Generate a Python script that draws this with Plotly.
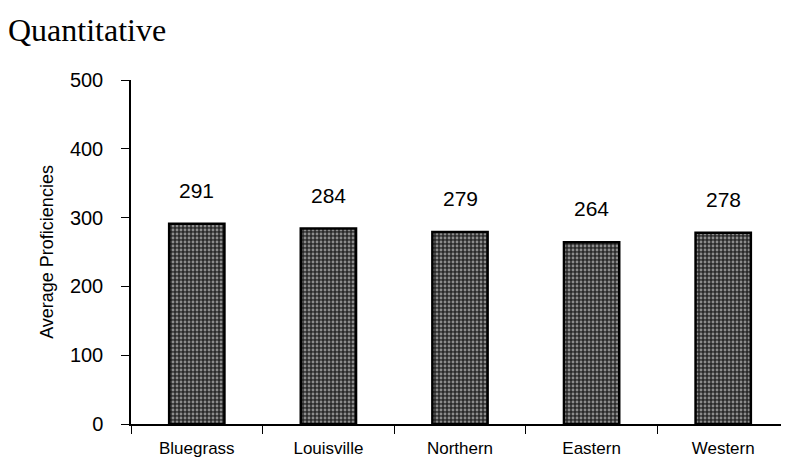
import plotly.graph_objects as go

regions = ["Bluegrass", "Louisville", "Northern", "Eastern", "Western"]
proficiency = [291, 284, 279, 264, 278]
bar_labels = ["291", "284", "279", "264", "278"]
y_ticks = [0, 100, 200, 300, 400, 500]

fig = go.Figure()
fig.add_trace(go.Bar(
    x=regions,
    y=proficiency,
    marker=dict(
        color="#333333",
        line=dict(color="black", width=2.5),
        pattern=dict(shape=".", size=4, solidity=0.4, fgcolor="#eeeeee", bgcolor="#2a2a2a"),
    ),
    width=0.42,
    hoverinfo="skip",
))

annotations = []
for r, v, t in zip(regions, proficiency, bar_labels):
    annotations.append(dict(
        x=r, y=v, text=t, showarrow=False, xref="x", yref="y",
        yanchor="bottom", yshift=20,
        font=dict(family="Liberation Sans, Arial, sans-serif", size=21, color="black"),
    ))

fig.update_layout(
    width=781, height=455,
    margin=dict(l=123, r=0, t=72, b=39),
    paper_bgcolor="white", plot_bgcolor="white",
    showlegend=False,
    bargap=0.58,
    title=dict(
        text="Quantitative",
        x=0.0, xanchor="left", xref="container", y=0.952, yanchor="middle",
        pad=dict(l=0, t=0, b=0, r=0),
        font=dict(family="Liberation Serif, Times New Roman, serif", size=32, color="black"),
    ),
    annotations=annotations,
    xaxis=dict(
        range=[-0.5, 4.5],
        showline=True, linecolor="black", linewidth=1.5,
        ticks="outside", tickson="boundaries", ticklen=8, tickcolor="black",
        ticklabelstandoff=8,
        showgrid=False,
        tickfont=dict(family="Liberation Sans, Arial, sans-serif", size=17, color="black"),
    ),
    yaxis=dict(
        range=[0, 500], tickvals=y_ticks,
        showline=True, linecolor="black", linewidth=1.5,
        ticks="outside", ticklen=8, tickcolor="black",
        ticklabelstandoff=14,
        showgrid=False, zeroline=False,
        tickfont=dict(family="Liberation Sans, Arial, sans-serif", size=20, color="black"),
        title=dict(
            text="Average Proficiencies",
            font=dict(family="Liberation Sans, Arial, sans-serif", size=18, color="black"),
            standoff=12,
        ),
    ),
)

fig.write_html("out.html")
